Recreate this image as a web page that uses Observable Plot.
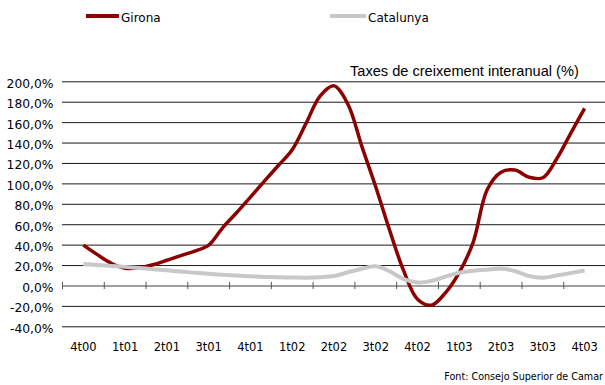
<!DOCTYPE html>
<html>
<head>
<meta charset="utf-8">
<script src="https://cdn.jsdelivr.net/npm/d3@7"></script>
<script src="https://cdn.jsdelivr.net/npm/@observablehq/plot@0.6"></script>
<style>
  body { margin: 0; background: #fff; }
  #wrap { position: relative; width: 605px; height: 385px; overflow: hidden; background: #fff; }
  #wrap > svg { position: absolute; left: 0; top: 0; }
</style>
</head>
<body>
<div id="wrap"></div>
<script>
// Quarter labels (category axis)
const quarters = ["4t00","1t01","2t01","3t01","4t01","1t02","2t02","3t02","4t02","1t03","2t03","3t03","4t03"];
// Series names and colours
const seriesNames = ["Girona", "Catalunya"];
const seriesColors = ["#8b0000", "#c8c8c8"];
// Monthly readings (three per quarter, from 4t00 to 4t03), % interannual growth
const gironaValues = [40, 30.7, 22.3, 17.3, 17.8, 20.8, 25.2, 29.8, 34.1, 40,
  57, 71.7, 87, 102.7, 118, 133.5, 159.5, 186, 196, 178, 136.7, 97, 54.3, 15,
  -13, -18.8, -6.8, 13.3, 43, 94.3, 111.5, 113.5, 106.6, 106, 124.6, 149.5, 174];
const catalunyaValues = [21.5, 20.6, 19.6, 18.7, 17.6, 16.4, 15.3, 14.1, 13, 11.9,
  10.9, 10.2, 9.5, 8.9, 8.5, 8.3, 8.1, 8.6, 9.7, 13.4, 16.9, 19.2, 14.3, 6.6,
  3.4, 5, 9.2, 13, 15, 16, 16.8, 14.7, 9.7, 8, 10.2, 12.6, 15.2];
// Y axis ticks
const yTicks = [-40, -20, 0, 20, 40, 60, 80, 100, 120, 140, 160, 180, 200];
const subtitle = "Taxes de creixement interanual (%)";
const caption = "Font: Consejo Superior de Camar";

const seriesValues = [gironaValues, catalunyaValues];
const rows = [];
seriesNames.forEach((name, s) => {
  seriesValues[s].forEach((v, i) => rows.push({serie: name, t: i / 3, value: v}));
});
const bandEdges = d3.range(quarters.length + 1).map(i => i - 0.5);

const chart = Plot.plot({
  width: 605,
  height: 385,
  marginTop: 81.3,
  marginBottom: 58.7,
  marginLeft: 62,
  marginRight: 0,
  x: {domain: [-0.5, quarters.length - 0.5]},
  y: {domain: [-40, 200]},
  style: {fontFamily: "'DejaVu Sans', sans-serif", fontSize: "12px", color: "#000", background: "transparent"},
  marks: [
    Plot.ruleY(yTicks.filter(d => d !== 0), {stroke: "#1a1a1a", strokeWidth: 1}),
    Plot.ruleY([0], {stroke: "#808080", strokeWidth: 1.5}),
    Plot.ruleX(bandEdges, {y1: -3.5, y2: 3.5, stroke: "#555", strokeWidth: 1}),
    Plot.axisY({ticks: yTicks, tickSize: 0, tickPadding: 9, fontSize: 12.3, dy: 2, label: null,
      tickFormat: d => d.toFixed(1).replace(".", ",") + "%"}),
    Plot.axisX({ticks: d3.range(quarters.length), tickSize: 0, tickPadding: 16.5, fontSize: 11.5, label: null,
      tickFormat: i => quarters[i]}),
    ...seriesNames.map((name, s) => Plot.line(rows.filter(r => r.serie === name), {
      x: "t", y: "value", stroke: seriesColors[s], strokeWidth: s === 0 ? 3.5 : 4,
      curve: "catmull-rom", strokeLinecap: "butt"
    }))
  ]
});
document.getElementById("wrap").appendChild(chart);

// Overlay: legend, subtitle, caption
const ov = d3.select("#wrap").append("svg").attr("width", 605).attr("height", 385)
  .style("font-family", "'DejaVu Sans', sans-serif");
const legendX = [86, 330];
const swatchW = [33, 36];
seriesNames.forEach((name, s) => {
  ov.append("line").attr("x1", legendX[s]).attr("x2", legendX[s] + swatchW[s])
    .attr("y1", 16).attr("y2", 16).attr("stroke", seriesColors[s]).attr("stroke-width", 4);
  ov.append("text").attr("x", legendX[s] + swatchW[s] + 2).attr("y", 21.5)
    .attr("font-size", 12).attr("fill", "#000").text(name);
});
ov.append("text").attr("x", 350).attr("y", 76.3)
  .attr("font-family", "'Liberation Sans', Arial, sans-serif").attr("font-size", 14.6)
  .attr("fill", "#000").text(subtitle);
ov.append("text").attr("x", 603).attr("y", 380).attr("text-anchor", "end")
  .attr("font-size", 9.6).attr("fill", "#000").text(caption);
</script>
</body>
</html>
